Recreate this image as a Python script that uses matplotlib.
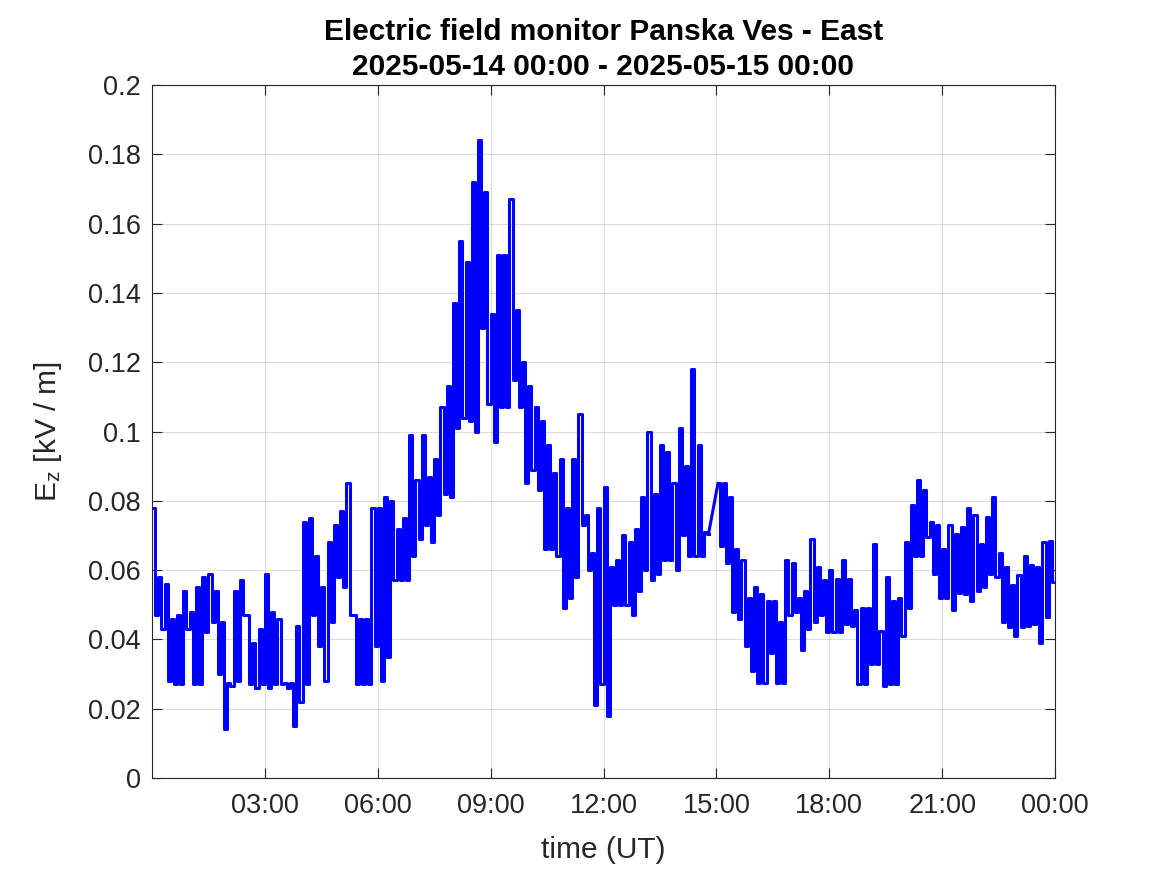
import numpy as np
import matplotlib
matplotlib.use("Agg")
import matplotlib.pyplot as plt
from matplotlib.ticker import FuncFormatter

plt.rcParams["font.family"] = ["Liberation Sans", "DejaVu Sans"]
plt.rcParams["mathtext.fontset"] = "custom"
plt.rcParams["mathtext.rm"] = "Liberation Sans"
plt.rcParams["mathtext.default"] = "regular"

# 10-minute bins over the day (144 bins), upper and lower value seen in each bin, kV/m
bin_minutes = 10
e_hi = [
    0.078, 0.058, 0.056, 0.046, 0.047, 0.054, 0.048, 0.055, 0.058, 0.059,
    0.054, 0.045, 0.0275, 0.054, 0.057, 0.047, 0.039, 0.043, 0.059, 0.048,
    0.046, 0.0275, 0.0275, 0.044, 0.074, 0.075, 0.064, 0.055, 0.068, 0.073,
    0.077, 0.085, 0.047, 0.046, 0.046, 0.078, 0.078, 0.081, 0.080, 0.072,
    0.075, 0.099, 0.086, 0.099, 0.087, 0.092, 0.107, 0.113, 0.137, 0.155,
    0.149, 0.172, 0.184, 0.169, 0.134, 0.151, 0.151, 0.167, 0.135, 0.120,
    0.113, 0.107, 0.103, 0.096, 0.088, 0.092, 0.078, 0.092, 0.105, 0.076,
    0.065, 0.078, 0.084, 0.061, 0.063, 0.070, 0.068, 0.072, 0.081, 0.100,
    0.082, 0.096, 0.094, 0.085, 0.101, 0.090, 0.118, 0.096, 0.071, np.nan,
    0.085, 0.085, 0.081, 0.066, 0.063, 0.052, 0.055, 0.053, 0.051, 0.051,
    0.045, 0.063, 0.062, 0.052, 0.054, 0.069, 0.061, 0.057, 0.060, 0.0575,
    0.063, 0.0575, 0.0485, 0.049, 0.049, 0.0675, 0.0425, 0.058, 0.051, 0.052,
    0.068, 0.0787, 0.086, 0.083, 0.074, 0.073, 0.066, 0.073, 0.0705, 0.0725,
    0.078, 0.076, 0.0676, 0.0753, 0.081, 0.065, 0.061, 0.0556, 0.0585, 0.064,
    0.0614, 0.061, 0.068, 0.0685,
]
e_lo = [
    0.047, 0.043, 0.028, 0.027, 0.027, 0.043, 0.027, 0.027, 0.042, 0.045,
    0.030, 0.014, 0.0265, 0.028, 0.047, 0.027, 0.026, 0.027, 0.026, 0.027,
    0.027, 0.026, 0.015, 0.022, 0.027, 0.047, 0.038, 0.028, 0.045, 0.058,
    0.055, 0.047, 0.027, 0.027, 0.027, 0.038, 0.028, 0.035, 0.057, 0.057,
    0.057, 0.064, 0.069, 0.073, 0.068, 0.076, 0.082, 0.081, 0.101, 0.104,
    0.103, 0.100, 0.130, 0.108, 0.097, 0.107, 0.107, 0.115, 0.107, 0.085,
    0.089, 0.083, 0.066, 0.066, 0.064, 0.049, 0.052, 0.058, 0.073, 0.060,
    0.021, 0.027, 0.018, 0.050, 0.050, 0.050, 0.047, 0.054, 0.060, 0.057,
    0.059, 0.063, 0.063, 0.060, 0.070, 0.064, 0.064, 0.064, 0.0705, np.nan,
    0.067, 0.062, 0.048, 0.046, 0.038, 0.031, 0.0275, 0.0275, 0.036, 0.0275,
    0.0275, 0.047, 0.048, 0.037, 0.043, 0.045, 0.047, 0.042, 0.042, 0.042,
    0.0445, 0.044, 0.027, 0.027, 0.033, 0.033, 0.0265, 0.027, 0.027, 0.041,
    0.049, 0.064, 0.064, 0.0695, 0.059, 0.052, 0.052, 0.0485, 0.0535, 0.053,
    0.051, 0.054, 0.055, 0.059, 0.058, 0.045, 0.0437, 0.041, 0.0437, 0.044,
    0.0445, 0.039, 0.0465, 0.0566,
]
x_ticks = [3, 6, 9, 12, 15, 18, 21, 24]
x_ticklabels = ["03:00", "06:00", "09:00", "12:00", "15:00", "18:00", "21:00", "00:00"]

# hi/lo of each bin as a stepped trace
hi = np.array(e_hi)
lo = np.array(e_lo)
start = np.arange(len(hi)) * bin_minutes / 60.0
t = np.column_stack([start + 2.5 / 60, start + 7.5 / 60]).ravel()
v = np.column_stack([hi, lo]).ravel()

# data gap: MATLAB joins straight across it
gap = np.where(np.isnan(v))[0]
a, b = gap[0], gap[-1] + 1

fig = plt.figure(figsize=(11.67, 8.75), dpi=100)
ax = fig.add_axes([152 / 1167, 97 / 875, 903 / 1167, 693 / 875])
blue = (0, 0, 1)
ax.plot(t[:a], v[:a], color=blue, linewidth=2.2, drawstyle="steps-mid")
ax.plot(t[b:], v[b:], color=blue, linewidth=2.2, drawstyle="steps-mid")
ax.plot([t[a - 1], t[b]], [v[a - 1], v[b]], color=blue, linewidth=2.2)

ax.set_xlim(0, 24)
ax.set_ylim(0, 0.2)
ax.set_xticks(x_ticks)
ax.set_xticklabels(x_ticklabels)
ax.set_yticks(np.arange(0, 0.2001, 0.02))
ax.yaxis.set_major_formatter(FuncFormatter(lambda y, p: ("%.2f" % y).rstrip("0").rstrip(".") if y else "0"))

ax.grid(True, color="#262626", alpha=0.15, linewidth=0.8)
ax.tick_params(direction="in", length=7, width=0.8, colors="#262626",
               labelsize=19.5, top=True, right=True)
ax.tick_params(axis="x", pad=11)
ax.tick_params(axis="y", pad=8)
for s in ax.spines.values():
    s.set_color("#262626")
    s.set_linewidth(0.8)

ax.set_xlabel("time (UT)", fontsize=21.5, color="#262626", labelpad=12)
ax.set_ylabel("E$_z$ [kV / m]", fontsize=21.5, color="#262626", labelpad=17)
ax.set_title("Electric field monitor Panska Ves - East\n2025-05-14 00:00 - 2025-05-15 00:00",
             fontsize=21.5, fontweight="bold", color="black", pad=7, linespacing=1.35)

fig.savefig("out.png", dpi=100)
